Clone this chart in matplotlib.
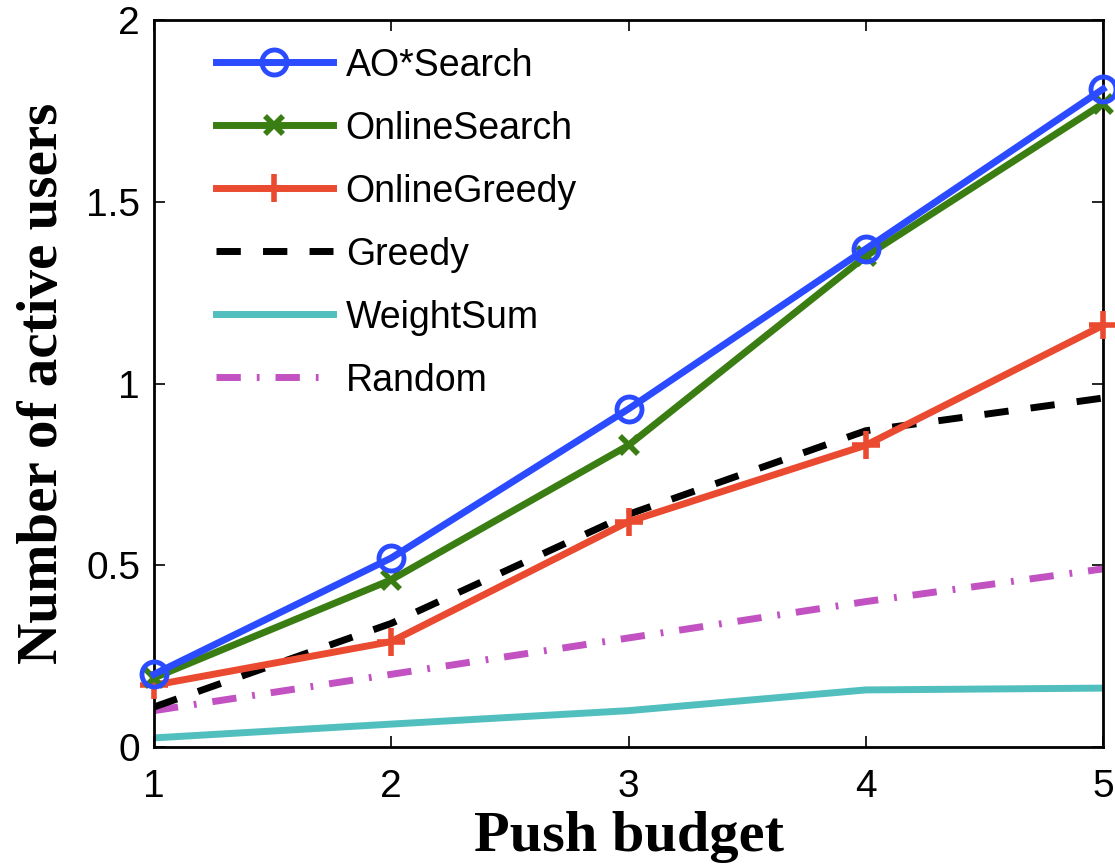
import matplotlib
matplotlib.use("Agg")
import matplotlib.pyplot as plt

# push budget on the x axis
budget = [1, 2, 3, 4, 5]

# number of active users for each method
ao_search = [0.20, 0.52, 0.93, 1.37, 1.81]
online_search = [0.19, 0.46, 0.83, 1.35, 1.77]
online_greedy = [0.17, 0.29, 0.62, 0.83, 1.16]
greedy = [0.11, 0.34, 0.64, 0.87, 0.96]
weight_sum = [0.025, 0.063, 0.10, 0.157, 0.162]
random_pick = [0.10, 0.20, 0.30, 0.40, 0.49]

plt.rcParams["font.family"] = ["Liberation Sans", "DejaVu Sans"]

fig = plt.figure(figsize=(11.15, 8.68), dpi=100)
ax = fig.add_axes([154 / 1115, 1 - 747 / 868, (1103 - 154) / 1115, (747 - 20) / 868])

lw = 5
ax.plot(budget, ao_search, color="#2a4bff", lw=lw, marker="o", markersize=18,
        markerfacecolor="none", markeredgewidth=3.5, label="AO*Search", clip_on=False, zorder=6)
ax.plot(budget, online_search, color="#3a7d12", lw=lw, marker="x", markersize=13,
        markeredgewidth=4, label="OnlineSearch", clip_on=False, zorder=5)
ax.plot(budget, online_greedy, color="#ea4a30", lw=lw, marker="+", markersize=20,
        markeredgewidth=4, label="OnlineGreedy", clip_on=False, zorder=4)
ax.plot(budget, greedy, color="black", lw=lw, ls=(0, (3.5, 3.2)), label="Greedy", zorder=3)
ax.plot(budget, weight_sum, color="#52bfbf", lw=lw, label="WeightSum", zorder=2)
ax.plot(budget, random_pick, color="#c252c2", lw=lw, ls=(0, (3.5, 2.3, 0.4, 2.3)),
        label="Random", zorder=2)

ax.set_xlim(1, 5)
ax.set_ylim(0, 2)
ax.set_xticks(budget)
ax.set_yticks([0, 0.5, 1, 1.5, 2])
ax.set_yticklabels(["0", "0.5", "1", "1.5", "2"])
ax.tick_params(direction="in", top=True, right=True, labelsize=28, length=8,
               width=1.2)
ax.tick_params(axis="x", pad=16)
ax.tick_params(axis="y", pad=10)
for s in ax.spines.values():
    s.set_linewidth(2)

ax.set_xlabel("Push budget", family="Liberation Serif", fontweight="bold",
              fontsize=42, labelpad=4)
ax.set_ylabel("Number of active users", family="Liberation Serif", fontweight="bold",
              fontsize=41, labelpad=12)

ax.legend(loc="upper left", frameon=False, fontsize=27, handlelength=3.1,
          handletextpad=0.35, labelspacing=0.72, borderaxespad=0.2,
          bbox_to_anchor=(0.042, 0.993))

fig.savefig("out.png", dpi=100)
